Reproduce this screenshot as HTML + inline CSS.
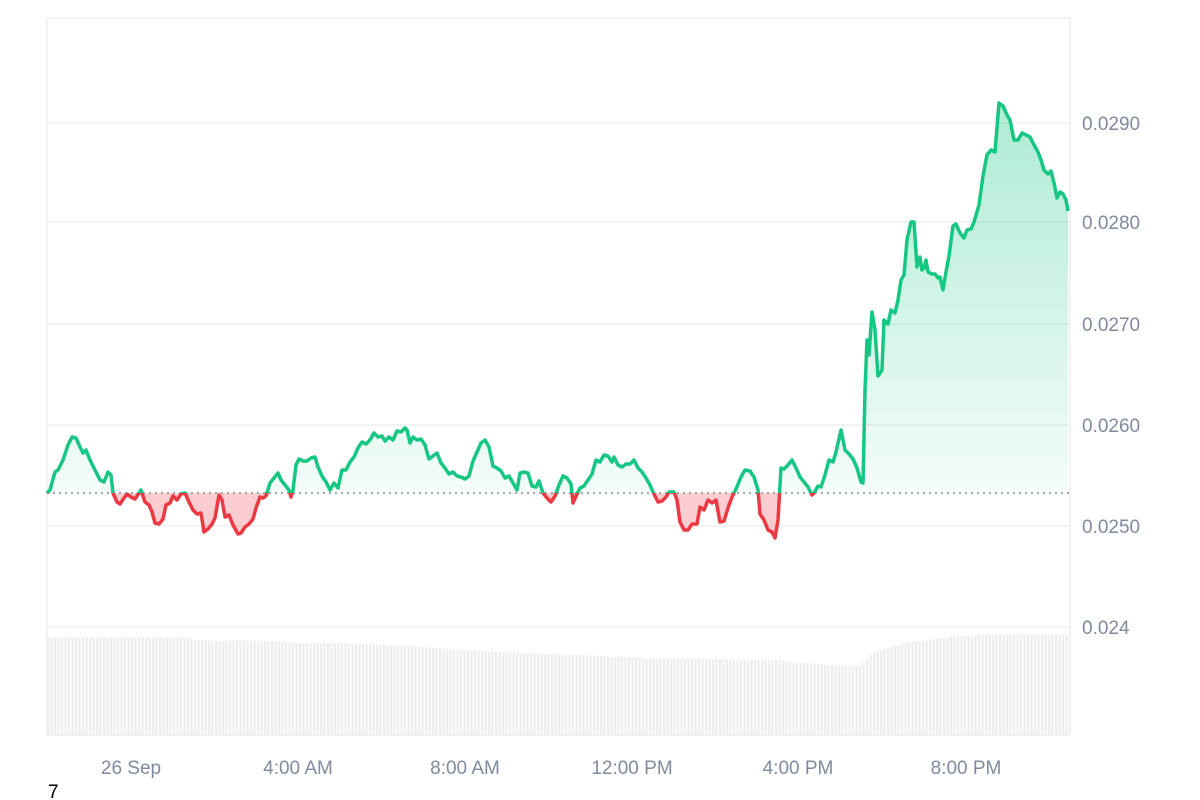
<!DOCTYPE html>
<html><head><meta charset="utf-8"><style>
html,body{margin:0;padding:0;background:#fff;}
svg{display:block;font-family:"Liberation Sans",sans-serif;}
</style></head><body>
<svg width="1200" height="800" viewBox="0 0 1200 800" xmlns="http://www.w3.org/2000/svg">
<defs>
<linearGradient id="gg" x1="0" y1="100" x2="0" y2="493" gradientUnits="userSpaceOnUse">
<stop offset="0" stop-color="#16c784" stop-opacity="0.35"/>
<stop offset="1" stop-color="#16c784" stop-opacity="0.05"/>
</linearGradient>
<clipPath id="above"><rect x="0" y="0" width="1200" height="493"/></clipPath>
<clipPath id="below"><rect x="0" y="493" width="1200" height="300"/></clipPath>
<pattern id="vb" x="47" y="0" width="3.5" height="10" patternUnits="userSpaceOnUse">
<rect x="0" y="0" width="2.3" height="10" fill="#eceef2"/>
</pattern>
</defs>
<g stroke="#efefef" stroke-width="1.5">
<line x1="47" y1="18" x2="1070" y2="18"/>
<line x1="47" y1="123" x2="1070" y2="123"/>
<line x1="47" y1="222" x2="1070" y2="222"/>
<line x1="47" y1="324" x2="1070" y2="324"/>
<line x1="47" y1="425" x2="1070" y2="425"/>
<line x1="47" y1="526" x2="1070" y2="526"/>
<line x1="47" y1="627" x2="1070" y2="627"/>
<line x1="47" y1="735" x2="1070" y2="735"/>
<line x1="47" y1="18" x2="47" y2="735"/>
<line x1="1070" y1="18" x2="1070" y2="735"/>
</g>
<path d="M47,637 L190,637 L192,640 L280,641 L300,643 L350,643 L410,646 L450,649 L500,652 L580,655 L650,658 L780,660 L800,663 L860,666 L870,655 L880,650 L910,642 L950,637 L990,634 L1070,634 L1070,735 L47,735 Z" fill="url(#vb)"/>
<polyline id="pl" fill="none" points="47,493 50,490 55,472 58,470 63,460 68,445 72,437 76,438 80,447 83,453 86,450 90,460 95,470 100,480 104,482 108,472 111,475 113,493 117,502 120,504 124,498 127,494 131,497 135,499 139,493 141,490 145,502 149,505 152,512 155,523 159,524 163,519 166,505 170,503 173,496 177,500 181,494 185,493 189,502 193,510 197,514 201,513 204,532 208,529 212,524 215,518 219,495 222,500 225,517 229,515 233,525 238,534 241,533 245,527 249,524 253,519 256,508 260,497 263,498 266,496 270,483 274,478 278,473 281,480 285,485 289,490 291,497 293,490 296,465 299,459 303,461 307,461 311,458 315,457 318,467 322,476 326,482 330,490 334,483 338,488 342,470 346,470 350,462 354,457 358,448 362,442 366,444 370,440 374,433 378,437 382,436 385,441 389,437 393,440 397,431 401,432 405,428 407,430 410,443 413,437 417,440 421,439 425,445 429,459 433,456 437,453 441,463 445,468 449,474 453,472 457,476 461,477 465,479 469,476 473,461 477,452 481,443 485,440 489,447 493,466 497,468 501,471 505,478 509,476 513,483 517,490 520,473 524,472 528,473 532,486 536,487 539,481 543,493 547,498 551,502 555,496 559,485 563,476 567,478 571,484 573,503 577,494 580,488 584,486 588,480 592,474 596,460 600,462 604,455 608,456 612,462 614,457 618,465 622,467 626,464 630,464 634,460 638,468 642,472 646,478 650,485 654,494 658,502 662,501 666,497 669,492 674,492 677,500 680,522 684,530 688,530 692,524 697,524 700,507 704,510 708,500 712,503 716,500 720,522 724,521 728,508 732,497 736,489 741,477 745,470 750,471 754,477 758,490 760,514 764,520 768,530 772,532 775,538 778,520 781,468 784,469 788,465 792,460 796,468 800,477 804,482 808,487 812,495 814,493 818,486 821,487 825,475 829,460 833,462 836,452 841,430 845,450 849,454 853,459 857,468 861,482 863,483 865,390 867,340 869,355 872,312 875,330 878,376 882,370 884,320 888,324 891,310 895,313 898,300 901,280 904,275 907,240 911,222 914,222 917,267 920,257 922,270 924,268 926,260 928,272 932,274 935,274 938,278 940,277 943,290 946,272 949,256 953,226 956,224 960,233 964,238 967,230 971,229 974,222 979,205 983,176 987,155 991,150 995,152 999,103 1003,106 1007,115 1010,120 1014,140 1018,140 1022,133 1026,135 1030,137 1034,145 1038,152 1041,160 1044,170 1048,174 1051,171 1054,183 1057,198 1060,192 1063,194 1066,200 1068,211"/>
</svg>
<script>
(function(){
var svg=document.querySelector('svg');
var pts=document.getElementById('pl').getAttribute('points');
var last=pts.trim().split(' ').pop().split(',')[0];
var area="M"+pts.trim().split(' ').join(' L')+" L"+last+",493 L47,493 Z";
var ns="http://www.w3.org/2000/svg";
function mk(tag,attrs){var e=document.createElementNS(ns,tag);for(var k in attrs)e.setAttribute(k,attrs[k]);svg.appendChild(e);return e;}
mk('path',{d:area,fill:'url(#gg)','clip-path':'url(#above)'});
mk('path',{d:area,fill:'#ea3943','fill-opacity':'0.25','clip-path':'url(#below)'});
mk('line',{x1:47,y1:493,x2:1070,y2:493,stroke:'#888','stroke-width':1.5,'stroke-dasharray':'2,4'});
mk('polyline',{points:pts,fill:'none',stroke:'#16c784','stroke-width':3.5,'stroke-linejoin':'round','clip-path':'url(#above)'});
mk('polyline',{points:pts,fill:'none',stroke:'#ea3943','stroke-width':3.5,'stroke-linejoin':'round','clip-path':'url(#below)'});
var yl=[[123,'0.0290'],[222,'0.0280'],[324,'0.0270'],[425,'0.0260'],[526,'0.0250'],[627,'0.024']];
yl.forEach(function(a){var t=mk('text',{x:1082,y:a[0]+7,'font-size':19,fill:'#808a9d'});t.textContent=a[1];});
var xl=[[131,'26 Sep'],[298,'4:00 AM'],[465,'8:00 AM'],[632,'12:00 PM'],[798,'4:00 PM'],[966,'8:00 PM']];
xl.forEach(function(a){var t=mk('text',{x:a[0],y:774,'font-size':19,fill:'#808a9d','text-anchor':'middle'});t.textContent=a[1];});
var t=mk('text',{x:48,y:798,'font-size':19,fill:'#000'});t.textContent='7';
})();
</script>
</body></html>
